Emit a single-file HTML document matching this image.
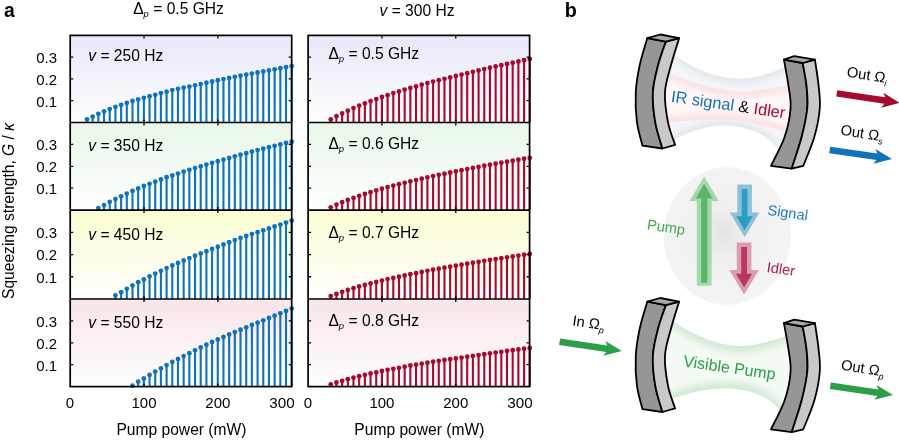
<!DOCTYPE html>
<html><head><meta charset="utf-8"><title>figure</title>
<style>html,body{margin:0;padding:0;background:#fff;}body{width:899px;height:440px;overflow:hidden;font-family:"Liberation Sans",sans-serif;}svg{display:block;opacity:0.999;}</style>
</head><body>
<svg width="899" height="440" viewBox="0 0 899 440" font-family="Liberation Sans, sans-serif" font-size="15.6" fill="#000">
<defs>
<linearGradient id="g0" x1="0" y1="0" x2="0" y2="1"><stop offset="0" stop-color="#e9e9f9"/><stop offset="0.08" stop-color="#e9e9f9"/><stop offset="1" stop-color="#ffffff"/></linearGradient>
<linearGradient id="g1" x1="0" y1="0" x2="0" y2="1"><stop offset="0" stop-color="#eaf8eb"/><stop offset="0.08" stop-color="#eaf8eb"/><stop offset="1" stop-color="#ffffff"/></linearGradient>
<linearGradient id="g2" x1="0" y1="0" x2="0" y2="1"><stop offset="0" stop-color="#fcfdd6"/><stop offset="0.08" stop-color="#fcfdd6"/><stop offset="1" stop-color="#ffffff"/></linearGradient>
<linearGradient id="g3" x1="0" y1="0" x2="0" y2="1"><stop offset="0" stop-color="#f9e7ea"/><stop offset="0.08" stop-color="#f9e7ea"/><stop offset="1" stop-color="#ffffff"/></linearGradient>
<radialGradient id="ell" cx="0.47" cy="0.48" r="0.52"><stop offset="0" stop-color="#e3e3e3"/><stop offset="0.15" stop-color="#e9e9e9"/><stop offset="0.35" stop-color="#efefef"/><stop offset="0.7" stop-color="#f2f2f2"/><stop offset="1" stop-color="#f4f4f4"/></radialGradient>
<filter id="b0" x="-10%" y="-10%" width="120%" height="120%"><feGaussianBlur stdDeviation="0.6"/></filter>
<filter id="b1" x="-20%" y="-20%" width="140%" height="140%"><feGaussianBlur stdDeviation="1.2"/></filter>
<filter id="b3" x="-20%" y="-30%" width="140%" height="160%"><feGaussianBlur stdDeviation="3"/></filter>
<filter id="b2" x="-20%" y="-20%" width="140%" height="140%"><feGaussianBlur stdDeviation="2.2"/></filter>
<linearGradient id="gb" x1="0" y1="0" x2="0" y2="1"><stop offset="0" stop-color="#cfe9cf"/><stop offset="0.5" stop-color="#f6fbf6"/><stop offset="1" stop-color="#d6edd6"/></linearGradient>
</defs>
<rect x="70.2" y="35.4" width="221.50" height="87.10" fill="url(#g0)"/>
<path d="M87.00 122.50V119.50M92.68 122.50V116.65M98.37 122.50V113.80M104.06 122.50V111.30M109.74 122.50V109.10M115.43 122.50V106.80M121.11 122.50V104.80M126.80 122.50V102.90M132.49 122.50V100.90M138.17 122.50V99.50M143.86 122.50V97.80M149.54 122.50V96.20M155.23 122.50V94.80M160.92 122.50V93.10M166.60 122.50V91.70M172.29 122.50V90.10M177.97 122.50V88.80M183.66 122.50V87.70M189.35 122.50V86.55M195.03 122.50V85.32M200.72 122.50V84.05M206.40 122.50V82.77M212.09 122.50V81.50M217.78 122.50V80.27M223.46 122.50V79.08M229.15 122.50V77.92M234.83 122.50V76.80M240.52 122.50V75.70M246.21 122.50V74.62M251.89 122.50V73.56M257.58 122.50V72.51M263.26 122.50V71.46M268.95 122.50V70.40M274.64 122.50V69.33M280.32 122.50V68.26M286.01 122.50V67.18M291.69 122.50V66.10" stroke="#0f73ba" stroke-width="2.1" fill="none"/>
<g fill="#0f73ba"><circle cx="87.00" cy="119.50" r="2.4"/><circle cx="92.68" cy="116.65" r="2.4"/><circle cx="98.37" cy="113.80" r="2.4"/><circle cx="104.06" cy="111.30" r="2.4"/><circle cx="109.74" cy="109.10" r="2.4"/><circle cx="115.43" cy="106.80" r="2.4"/><circle cx="121.11" cy="104.80" r="2.4"/><circle cx="126.80" cy="102.90" r="2.4"/><circle cx="132.49" cy="100.90" r="2.4"/><circle cx="138.17" cy="99.50" r="2.4"/><circle cx="143.86" cy="97.80" r="2.4"/><circle cx="149.54" cy="96.20" r="2.4"/><circle cx="155.23" cy="94.80" r="2.4"/><circle cx="160.92" cy="93.10" r="2.4"/><circle cx="166.60" cy="91.70" r="2.4"/><circle cx="172.29" cy="90.10" r="2.4"/><circle cx="177.97" cy="88.80" r="2.4"/><circle cx="183.66" cy="87.70" r="2.4"/><circle cx="189.35" cy="86.55" r="2.4"/><circle cx="195.03" cy="85.32" r="2.4"/><circle cx="200.72" cy="84.05" r="2.4"/><circle cx="206.40" cy="82.77" r="2.4"/><circle cx="212.09" cy="81.50" r="2.4"/><circle cx="217.78" cy="80.27" r="2.4"/><circle cx="223.46" cy="79.08" r="2.4"/><circle cx="229.15" cy="77.92" r="2.4"/><circle cx="234.83" cy="76.80" r="2.4"/><circle cx="240.52" cy="75.70" r="2.4"/><circle cx="246.21" cy="74.62" r="2.4"/><circle cx="251.89" cy="73.56" r="2.4"/><circle cx="257.58" cy="72.51" r="2.4"/><circle cx="263.26" cy="71.46" r="2.4"/><circle cx="268.95" cy="70.40" r="2.4"/><circle cx="274.64" cy="69.33" r="2.4"/><circle cx="280.32" cy="68.26" r="2.4"/><circle cx="286.01" cy="67.18" r="2.4"/><circle cx="291.69" cy="66.10" r="2.4"/></g>
<rect x="70.2" y="122.5" width="221.50" height="87.60" fill="url(#g1)"/>
<path d="M98.37 210.10V208.10M104.06 210.10V205.10M109.74 210.10V201.80M115.43 210.10V199.10M121.11 210.10V196.30M126.80 210.10V193.60M132.49 210.10V190.90M138.17 210.10V188.50M143.86 210.10V186.00M149.54 210.10V183.80M155.23 210.10V181.70M160.92 210.10V179.50M166.60 210.10V177.20M172.29 210.10V175.40M177.97 210.10V173.60M183.66 210.10V171.70M189.35 210.10V169.84M195.03 210.10V168.05M200.72 210.10V166.30M206.40 210.10V164.59M212.09 210.10V162.90M217.78 210.10V161.22M223.46 210.10V159.56M229.15 210.10V157.91M234.83 210.10V156.29M240.52 210.10V154.70M246.21 210.10V153.14M251.89 210.10V151.61M257.58 210.10V150.11M263.26 210.10V148.64M268.95 210.10V147.20M274.64 210.10V145.78M280.32 210.10V144.38M286.01 210.10V142.99M291.69 210.10V141.60" stroke="#0f73ba" stroke-width="2.1" fill="none"/>
<g fill="#0f73ba"><circle cx="98.37" cy="208.10" r="2.4"/><circle cx="104.06" cy="205.10" r="2.4"/><circle cx="109.74" cy="201.80" r="2.4"/><circle cx="115.43" cy="199.10" r="2.4"/><circle cx="121.11" cy="196.30" r="2.4"/><circle cx="126.80" cy="193.60" r="2.4"/><circle cx="132.49" cy="190.90" r="2.4"/><circle cx="138.17" cy="188.50" r="2.4"/><circle cx="143.86" cy="186.00" r="2.4"/><circle cx="149.54" cy="183.80" r="2.4"/><circle cx="155.23" cy="181.70" r="2.4"/><circle cx="160.92" cy="179.50" r="2.4"/><circle cx="166.60" cy="177.20" r="2.4"/><circle cx="172.29" cy="175.40" r="2.4"/><circle cx="177.97" cy="173.60" r="2.4"/><circle cx="183.66" cy="171.70" r="2.4"/><circle cx="189.35" cy="169.84" r="2.4"/><circle cx="195.03" cy="168.05" r="2.4"/><circle cx="200.72" cy="166.30" r="2.4"/><circle cx="206.40" cy="164.59" r="2.4"/><circle cx="212.09" cy="162.90" r="2.4"/><circle cx="217.78" cy="161.22" r="2.4"/><circle cx="223.46" cy="159.56" r="2.4"/><circle cx="229.15" cy="157.91" r="2.4"/><circle cx="234.83" cy="156.29" r="2.4"/><circle cx="240.52" cy="154.70" r="2.4"/><circle cx="246.21" cy="153.14" r="2.4"/><circle cx="251.89" cy="151.61" r="2.4"/><circle cx="257.58" cy="150.11" r="2.4"/><circle cx="263.26" cy="148.64" r="2.4"/><circle cx="268.95" cy="147.20" r="2.4"/><circle cx="274.64" cy="145.78" r="2.4"/><circle cx="280.32" cy="144.38" r="2.4"/><circle cx="286.01" cy="142.99" r="2.4"/><circle cx="291.69" cy="141.60" r="2.4"/></g>
<rect x="70.2" y="210.1" width="221.50" height="88.90" fill="url(#g2)"/>
<path d="M115.43 299.00V295.50M121.11 299.00V292.20M126.80 299.00V288.80M132.49 299.00V285.50M138.17 299.00V282.20M143.86 299.00V279.40M149.54 299.00V276.30M155.23 299.00V273.60M160.92 299.00V270.80M166.60 299.00V268.10M172.29 299.00V265.40M177.97 299.00V263.00M183.66 299.00V260.50M189.35 299.00V258.04M195.03 299.00V255.68M200.72 299.00V253.39M206.40 299.00V251.14M212.09 299.00V248.90M217.78 299.00V246.66M223.46 299.00V244.43M229.15 299.00V242.23M234.83 299.00V240.08M240.52 299.00V238.00M246.21 299.00V236.00M251.89 299.00V234.07M257.58 299.00V232.17M263.26 299.00V230.29M268.95 299.00V228.40M274.64 299.00V226.48M280.32 299.00V224.53M286.01 299.00V222.57M291.69 299.00V220.60" stroke="#0f73ba" stroke-width="2.1" fill="none"/>
<g fill="#0f73ba"><circle cx="115.43" cy="295.50" r="2.4"/><circle cx="121.11" cy="292.20" r="2.4"/><circle cx="126.80" cy="288.80" r="2.4"/><circle cx="132.49" cy="285.50" r="2.4"/><circle cx="138.17" cy="282.20" r="2.4"/><circle cx="143.86" cy="279.40" r="2.4"/><circle cx="149.54" cy="276.30" r="2.4"/><circle cx="155.23" cy="273.60" r="2.4"/><circle cx="160.92" cy="270.80" r="2.4"/><circle cx="166.60" cy="268.10" r="2.4"/><circle cx="172.29" cy="265.40" r="2.4"/><circle cx="177.97" cy="263.00" r="2.4"/><circle cx="183.66" cy="260.50" r="2.4"/><circle cx="189.35" cy="258.04" r="2.4"/><circle cx="195.03" cy="255.68" r="2.4"/><circle cx="200.72" cy="253.39" r="2.4"/><circle cx="206.40" cy="251.14" r="2.4"/><circle cx="212.09" cy="248.90" r="2.4"/><circle cx="217.78" cy="246.66" r="2.4"/><circle cx="223.46" cy="244.43" r="2.4"/><circle cx="229.15" cy="242.23" r="2.4"/><circle cx="234.83" cy="240.08" r="2.4"/><circle cx="240.52" cy="238.00" r="2.4"/><circle cx="246.21" cy="236.00" r="2.4"/><circle cx="251.89" cy="234.07" r="2.4"/><circle cx="257.58" cy="232.17" r="2.4"/><circle cx="263.26" cy="230.29" r="2.4"/><circle cx="268.95" cy="228.40" r="2.4"/><circle cx="274.64" cy="226.48" r="2.4"/><circle cx="280.32" cy="224.53" r="2.4"/><circle cx="286.01" cy="222.57" r="2.4"/><circle cx="291.69" cy="220.60" r="2.4"/></g>
<rect x="70.2" y="299.0" width="221.50" height="87.60" fill="url(#g3)"/>
<path d="M132.49 386.60V385.60M138.17 386.60V381.70M143.86 386.60V378.40M149.54 386.60V374.90M155.23 386.60V371.60M160.92 386.60V368.40M166.60 386.60V365.10M172.29 386.60V362.00M177.97 386.60V359.00M183.66 386.60V356.10M189.35 386.60V353.21M195.03 386.60V350.34M200.72 386.60V347.49M206.40 386.60V344.70M212.09 386.60V342.00M217.78 386.60V339.40M223.46 386.60V336.89M229.15 386.60V334.45M234.83 386.60V332.06M240.52 386.60V329.70M246.21 386.60V327.35M251.89 386.60V325.01M257.58 386.60V322.68M263.26 386.60V320.34M268.95 386.60V318.00M274.64 386.60V315.66M280.32 386.60V313.31M286.01 386.60V310.95M291.69 386.60V308.60" stroke="#0f73ba" stroke-width="2.1" fill="none"/>
<g fill="#0f73ba"><circle cx="132.49" cy="385.60" r="2.4"/><circle cx="138.17" cy="381.70" r="2.4"/><circle cx="143.86" cy="378.40" r="2.4"/><circle cx="149.54" cy="374.90" r="2.4"/><circle cx="155.23" cy="371.60" r="2.4"/><circle cx="160.92" cy="368.40" r="2.4"/><circle cx="166.60" cy="365.10" r="2.4"/><circle cx="172.29" cy="362.00" r="2.4"/><circle cx="177.97" cy="359.00" r="2.4"/><circle cx="183.66" cy="356.10" r="2.4"/><circle cx="189.35" cy="353.21" r="2.4"/><circle cx="195.03" cy="350.34" r="2.4"/><circle cx="200.72" cy="347.49" r="2.4"/><circle cx="206.40" cy="344.70" r="2.4"/><circle cx="212.09" cy="342.00" r="2.4"/><circle cx="217.78" cy="339.40" r="2.4"/><circle cx="223.46" cy="336.89" r="2.4"/><circle cx="229.15" cy="334.45" r="2.4"/><circle cx="234.83" cy="332.06" r="2.4"/><circle cx="240.52" cy="329.70" r="2.4"/><circle cx="246.21" cy="327.35" r="2.4"/><circle cx="251.89" cy="325.01" r="2.4"/><circle cx="257.58" cy="322.68" r="2.4"/><circle cx="263.26" cy="320.34" r="2.4"/><circle cx="268.95" cy="318.00" r="2.4"/><circle cx="274.64" cy="315.66" r="2.4"/><circle cx="280.32" cy="313.31" r="2.4"/><circle cx="286.01" cy="310.95" r="2.4"/><circle cx="291.69" cy="308.60" r="2.4"/></g>
<path d="M70.2 100.72h3M291.7 100.72h-3M70.2 78.95h3M291.7 78.95h-3M70.2 57.18h3M291.7 57.18h-3M144.03 35.4v3M144.03 122.5v-3M217.87 35.4v3M217.87 122.5v-3M70.2 188.20h3M291.7 188.20h-3M70.2 166.30h3M291.7 166.30h-3M70.2 144.40h3M291.7 144.40h-3M144.03 122.5v3M144.03 210.1v-3M217.87 122.5v3M217.87 210.1v-3M70.2 276.77h3M291.7 276.77h-3M70.2 254.55h3M291.7 254.55h-3M70.2 232.32h3M291.7 232.32h-3M144.03 210.1v3M144.03 299.0v-3M217.87 210.1v3M217.87 299.0v-3M70.2 364.70h3M291.7 364.70h-3M70.2 342.80h3M291.7 342.80h-3M70.2 320.90h3M291.7 320.90h-3M144.03 299.0v3M144.03 386.6v-3M217.87 299.0v3M217.87 386.6v-3" stroke="#000" stroke-width="1.3" fill="none"/>
<rect x="70.2" y="35.4" width="221.50" height="351.20" fill="none" stroke="#000" stroke-width="1.7"/>
<path d="M70.2 122.5H291.7" stroke="#000" stroke-width="1.7"/>
<path d="M70.2 210.1H291.7" stroke="#000" stroke-width="1.7"/>
<path d="M70.2 299.0H291.7" stroke="#000" stroke-width="1.7"/>
<text x="70.00" y="407.6" text-anchor="middle" font-size="15">0</text>
<text x="144.03" y="407.6" text-anchor="middle" font-size="15">100</text>
<text x="217.87" y="407.6" text-anchor="middle" font-size="15">200</text>
<text x="294.70" y="407.6" text-anchor="end" font-size="15.2">300</text>
<text x="181.45" y="434.6" text-anchor="middle">Pump power (mW)</text>
<rect x="308.1" y="35.4" width="221.50" height="87.10" fill="url(#g0)"/>
<path d="M330.74 122.50V119.50M336.43 122.50V116.20M342.12 122.50V113.40M347.80 122.50V110.70M353.49 122.50V108.10M359.17 122.50V105.60M364.86 122.50V103.40M370.55 122.50V101.10M376.23 122.50V99.10M381.92 122.50V97.00M387.60 122.50V95.20M393.29 122.50V93.10M398.98 122.50V91.50M404.66 122.50V89.60M410.35 122.50V88.00M416.03 122.50V86.40M421.72 122.50V84.70M427.41 122.50V83.09M433.09 122.50V81.59M438.78 122.50V80.16M444.46 122.50V78.78M450.15 122.50V77.40M455.84 122.50V76.01M461.52 122.50V74.60M467.21 122.50V73.18M472.89 122.50V71.78M478.58 122.50V70.40M484.27 122.50V69.05M489.95 122.50V67.73M495.64 122.50V66.43M501.32 122.50V65.15M507.01 122.50V63.90M512.70 122.50V62.66M518.38 122.50V61.43M524.07 122.50V60.22M529.75 122.50V59.00" stroke="#a60a2e" stroke-width="2.1" fill="none"/>
<g fill="#a60a2e"><circle cx="330.74" cy="119.50" r="2.4"/><circle cx="336.43" cy="116.20" r="2.4"/><circle cx="342.12" cy="113.40" r="2.4"/><circle cx="347.80" cy="110.70" r="2.4"/><circle cx="353.49" cy="108.10" r="2.4"/><circle cx="359.17" cy="105.60" r="2.4"/><circle cx="364.86" cy="103.40" r="2.4"/><circle cx="370.55" cy="101.10" r="2.4"/><circle cx="376.23" cy="99.10" r="2.4"/><circle cx="381.92" cy="97.00" r="2.4"/><circle cx="387.60" cy="95.20" r="2.4"/><circle cx="393.29" cy="93.10" r="2.4"/><circle cx="398.98" cy="91.50" r="2.4"/><circle cx="404.66" cy="89.60" r="2.4"/><circle cx="410.35" cy="88.00" r="2.4"/><circle cx="416.03" cy="86.40" r="2.4"/><circle cx="421.72" cy="84.70" r="2.4"/><circle cx="427.41" cy="83.09" r="2.4"/><circle cx="433.09" cy="81.59" r="2.4"/><circle cx="438.78" cy="80.16" r="2.4"/><circle cx="444.46" cy="78.78" r="2.4"/><circle cx="450.15" cy="77.40" r="2.4"/><circle cx="455.84" cy="76.01" r="2.4"/><circle cx="461.52" cy="74.60" r="2.4"/><circle cx="467.21" cy="73.18" r="2.4"/><circle cx="472.89" cy="71.78" r="2.4"/><circle cx="478.58" cy="70.40" r="2.4"/><circle cx="484.27" cy="69.05" r="2.4"/><circle cx="489.95" cy="67.73" r="2.4"/><circle cx="495.64" cy="66.43" r="2.4"/><circle cx="501.32" cy="65.15" r="2.4"/><circle cx="507.01" cy="63.90" r="2.4"/><circle cx="512.70" cy="62.66" r="2.4"/><circle cx="518.38" cy="61.43" r="2.4"/><circle cx="524.07" cy="60.22" r="2.4"/><circle cx="529.75" cy="59.00" r="2.4"/></g>
<rect x="308.1" y="122.5" width="221.50" height="87.60" fill="url(#g1)"/>
<path d="M330.74 210.10V207.30M336.43 210.10V204.60M342.12 210.10V202.20M347.80 210.10V199.90M353.49 210.10V197.90M359.17 210.10V195.90M364.86 210.10V194.00M370.55 210.10V192.20M376.23 210.10V190.50M381.92 210.10V188.70M387.60 210.10V187.10M393.29 210.10V185.60M398.98 210.10V184.20M404.66 210.10V182.80M410.35 210.10V181.30M416.03 210.10V180.10M421.72 210.10V178.70M427.41 210.10V177.32M433.09 210.10V176.03M438.78 210.10V174.82M444.46 210.10V173.65M450.15 210.10V172.50M455.84 210.10V171.34M461.52 210.10V170.18M467.21 210.10V169.04M472.89 210.10V167.90M478.58 210.10V166.80M484.27 210.10V165.73M489.95 210.10V164.69M495.64 210.10V163.68M501.32 210.10V162.68M507.01 210.10V161.70M512.70 210.10V160.72M518.38 210.10V159.75M524.07 210.10V158.77M529.75 210.10V157.80" stroke="#a60a2e" stroke-width="2.1" fill="none"/>
<g fill="#a60a2e"><circle cx="330.74" cy="207.30" r="2.4"/><circle cx="336.43" cy="204.60" r="2.4"/><circle cx="342.12" cy="202.20" r="2.4"/><circle cx="347.80" cy="199.90" r="2.4"/><circle cx="353.49" cy="197.90" r="2.4"/><circle cx="359.17" cy="195.90" r="2.4"/><circle cx="364.86" cy="194.00" r="2.4"/><circle cx="370.55" cy="192.20" r="2.4"/><circle cx="376.23" cy="190.50" r="2.4"/><circle cx="381.92" cy="188.70" r="2.4"/><circle cx="387.60" cy="187.10" r="2.4"/><circle cx="393.29" cy="185.60" r="2.4"/><circle cx="398.98" cy="184.20" r="2.4"/><circle cx="404.66" cy="182.80" r="2.4"/><circle cx="410.35" cy="181.30" r="2.4"/><circle cx="416.03" cy="180.10" r="2.4"/><circle cx="421.72" cy="178.70" r="2.4"/><circle cx="427.41" cy="177.32" r="2.4"/><circle cx="433.09" cy="176.03" r="2.4"/><circle cx="438.78" cy="174.82" r="2.4"/><circle cx="444.46" cy="173.65" r="2.4"/><circle cx="450.15" cy="172.50" r="2.4"/><circle cx="455.84" cy="171.34" r="2.4"/><circle cx="461.52" cy="170.18" r="2.4"/><circle cx="467.21" cy="169.04" r="2.4"/><circle cx="472.89" cy="167.90" r="2.4"/><circle cx="478.58" cy="166.80" r="2.4"/><circle cx="484.27" cy="165.73" r="2.4"/><circle cx="489.95" cy="164.69" r="2.4"/><circle cx="495.64" cy="163.68" r="2.4"/><circle cx="501.32" cy="162.68" r="2.4"/><circle cx="507.01" cy="161.70" r="2.4"/><circle cx="512.70" cy="160.72" r="2.4"/><circle cx="518.38" cy="159.75" r="2.4"/><circle cx="524.07" cy="158.77" r="2.4"/><circle cx="529.75" cy="157.80" r="2.4"/></g>
<rect x="308.1" y="210.1" width="221.50" height="88.90" fill="url(#g2)"/>
<path d="M330.74 299.00V296.10M336.43 299.00V293.90M342.12 299.00V291.80M347.80 299.00V290.00M353.49 299.00V288.20M359.17 299.00V286.50M364.86 299.00V284.90M370.55 299.00V283.40M376.23 299.00V282.00M381.92 299.00V280.60M387.60 299.00V279.10M393.29 299.00V277.90M398.98 299.00V276.70M404.66 299.00V275.50M410.35 299.00V274.20M416.03 299.00V273.20M421.72 299.00V272.00M427.41 299.00V270.81M433.09 299.00V269.71M438.78 299.00V268.68M444.46 299.00V267.68M450.15 299.00V266.70M455.84 299.00V265.71M461.52 299.00V264.72M467.21 299.00V263.73M472.89 299.00V262.76M478.58 299.00V261.80M484.27 299.00V260.87M489.95 299.00V259.96M495.64 299.00V259.06M501.32 299.00V258.18M507.01 299.00V257.30M512.70 299.00V256.42M518.38 299.00V255.55M524.07 299.00V254.67M529.75 299.00V253.80" stroke="#a60a2e" stroke-width="2.1" fill="none"/>
<g fill="#a60a2e"><circle cx="330.74" cy="296.10" r="2.4"/><circle cx="336.43" cy="293.90" r="2.4"/><circle cx="342.12" cy="291.80" r="2.4"/><circle cx="347.80" cy="290.00" r="2.4"/><circle cx="353.49" cy="288.20" r="2.4"/><circle cx="359.17" cy="286.50" r="2.4"/><circle cx="364.86" cy="284.90" r="2.4"/><circle cx="370.55" cy="283.40" r="2.4"/><circle cx="376.23" cy="282.00" r="2.4"/><circle cx="381.92" cy="280.60" r="2.4"/><circle cx="387.60" cy="279.10" r="2.4"/><circle cx="393.29" cy="277.90" r="2.4"/><circle cx="398.98" cy="276.70" r="2.4"/><circle cx="404.66" cy="275.50" r="2.4"/><circle cx="410.35" cy="274.20" r="2.4"/><circle cx="416.03" cy="273.20" r="2.4"/><circle cx="421.72" cy="272.00" r="2.4"/><circle cx="427.41" cy="270.81" r="2.4"/><circle cx="433.09" cy="269.71" r="2.4"/><circle cx="438.78" cy="268.68" r="2.4"/><circle cx="444.46" cy="267.68" r="2.4"/><circle cx="450.15" cy="266.70" r="2.4"/><circle cx="455.84" cy="265.71" r="2.4"/><circle cx="461.52" cy="264.72" r="2.4"/><circle cx="467.21" cy="263.73" r="2.4"/><circle cx="472.89" cy="262.76" r="2.4"/><circle cx="478.58" cy="261.80" r="2.4"/><circle cx="484.27" cy="260.87" r="2.4"/><circle cx="489.95" cy="259.96" r="2.4"/><circle cx="495.64" cy="259.06" r="2.4"/><circle cx="501.32" cy="258.18" r="2.4"/><circle cx="507.01" cy="257.30" r="2.4"/><circle cx="512.70" cy="256.42" r="2.4"/><circle cx="518.38" cy="255.55" r="2.4"/><circle cx="524.07" cy="254.67" r="2.4"/><circle cx="529.75" cy="253.80" r="2.4"/></g>
<rect x="308.1" y="299.0" width="221.50" height="87.60" fill="url(#g3)"/>
<path d="M330.74 386.60V384.30M336.43 386.60V382.50M342.12 386.60V380.90M347.80 386.60V379.20M353.49 386.60V377.60M359.17 386.60V376.20M364.86 386.60V374.90M370.55 386.60V373.50M376.23 386.60V372.30M381.92 386.60V371.00M387.60 386.60V369.80M393.29 386.60V368.80M398.98 386.60V367.80M404.66 386.60V366.70M410.35 386.60V365.50M416.03 386.60V364.70M421.72 386.60V363.70M427.41 386.60V362.69M433.09 386.60V361.75M438.78 386.60V360.87M444.46 386.60V360.02M450.15 386.60V359.20M455.84 386.60V358.38M461.52 386.60V357.56M467.21 386.60V356.74M472.89 386.60V355.92M478.58 386.60V355.10M484.27 386.60V354.27M489.95 386.60V353.44M495.64 386.60V352.62M501.32 386.60V351.80M507.01 386.60V351.00M512.70 386.60V350.21M518.38 386.60V349.43M524.07 386.60V348.66M529.75 386.60V347.90" stroke="#a60a2e" stroke-width="2.1" fill="none"/>
<g fill="#a60a2e"><circle cx="330.74" cy="384.30" r="2.4"/><circle cx="336.43" cy="382.50" r="2.4"/><circle cx="342.12" cy="380.90" r="2.4"/><circle cx="347.80" cy="379.20" r="2.4"/><circle cx="353.49" cy="377.60" r="2.4"/><circle cx="359.17" cy="376.20" r="2.4"/><circle cx="364.86" cy="374.90" r="2.4"/><circle cx="370.55" cy="373.50" r="2.4"/><circle cx="376.23" cy="372.30" r="2.4"/><circle cx="381.92" cy="371.00" r="2.4"/><circle cx="387.60" cy="369.80" r="2.4"/><circle cx="393.29" cy="368.80" r="2.4"/><circle cx="398.98" cy="367.80" r="2.4"/><circle cx="404.66" cy="366.70" r="2.4"/><circle cx="410.35" cy="365.50" r="2.4"/><circle cx="416.03" cy="364.70" r="2.4"/><circle cx="421.72" cy="363.70" r="2.4"/><circle cx="427.41" cy="362.69" r="2.4"/><circle cx="433.09" cy="361.75" r="2.4"/><circle cx="438.78" cy="360.87" r="2.4"/><circle cx="444.46" cy="360.02" r="2.4"/><circle cx="450.15" cy="359.20" r="2.4"/><circle cx="455.84" cy="358.38" r="2.4"/><circle cx="461.52" cy="357.56" r="2.4"/><circle cx="467.21" cy="356.74" r="2.4"/><circle cx="472.89" cy="355.92" r="2.4"/><circle cx="478.58" cy="355.10" r="2.4"/><circle cx="484.27" cy="354.27" r="2.4"/><circle cx="489.95" cy="353.44" r="2.4"/><circle cx="495.64" cy="352.62" r="2.4"/><circle cx="501.32" cy="351.80" r="2.4"/><circle cx="507.01" cy="351.00" r="2.4"/><circle cx="512.70" cy="350.21" r="2.4"/><circle cx="518.38" cy="349.43" r="2.4"/><circle cx="524.07" cy="348.66" r="2.4"/><circle cx="529.75" cy="347.90" r="2.4"/></g>
<path d="M308.1 100.72h3M529.6 100.72h-3M308.1 78.95h3M529.6 78.95h-3M308.1 57.18h3M529.6 57.18h-3M381.93 35.4v3M381.93 122.5v-3M455.77 35.4v3M455.77 122.5v-3M308.1 188.20h3M529.6 188.20h-3M308.1 166.30h3M529.6 166.30h-3M308.1 144.40h3M529.6 144.40h-3M381.93 122.5v3M381.93 210.1v-3M455.77 122.5v3M455.77 210.1v-3M308.1 276.77h3M529.6 276.77h-3M308.1 254.55h3M529.6 254.55h-3M308.1 232.32h3M529.6 232.32h-3M381.93 210.1v3M381.93 299.0v-3M455.77 210.1v3M455.77 299.0v-3M308.1 364.70h3M529.6 364.70h-3M308.1 342.80h3M529.6 342.80h-3M308.1 320.90h3M529.6 320.90h-3M381.93 299.0v3M381.93 386.6v-3M455.77 299.0v3M455.77 386.6v-3" stroke="#000" stroke-width="1.3" fill="none"/>
<rect x="308.1" y="35.4" width="221.50" height="351.20" fill="none" stroke="#000" stroke-width="1.7"/>
<path d="M308.1 122.5H529.6" stroke="#000" stroke-width="1.7"/>
<path d="M308.1 210.1H529.6" stroke="#000" stroke-width="1.7"/>
<path d="M308.1 299.0H529.6" stroke="#000" stroke-width="1.7"/>
<text x="307.90" y="407.6" text-anchor="middle" font-size="15">0</text>
<text x="381.93" y="407.6" text-anchor="middle" font-size="15">100</text>
<text x="455.77" y="407.6" text-anchor="middle" font-size="15">200</text>
<text x="532.60" y="407.6" text-anchor="end" font-size="15.2">300</text>
<text x="419.35" y="434.6" text-anchor="middle">Pump power (mW)</text>
<text x="57.0" y="106.52" text-anchor="end" font-size="15">0.1</text>
<text x="57.0" y="84.75" text-anchor="end" font-size="15">0.2</text>
<text x="57.0" y="62.98" text-anchor="end" font-size="15">0.3</text>
<text x="57.0" y="194.00" text-anchor="end" font-size="15">0.1</text>
<text x="57.0" y="172.10" text-anchor="end" font-size="15">0.2</text>
<text x="57.0" y="150.20" text-anchor="end" font-size="15">0.3</text>
<text x="57.0" y="282.57" text-anchor="end" font-size="15">0.1</text>
<text x="57.0" y="260.35" text-anchor="end" font-size="15">0.2</text>
<text x="57.0" y="238.12" text-anchor="end" font-size="15">0.3</text>
<text x="57.0" y="370.50" text-anchor="end" font-size="15">0.1</text>
<text x="57.0" y="348.60" text-anchor="end" font-size="15">0.2</text>
<text x="57.0" y="326.70" text-anchor="end" font-size="15">0.3</text>
<text transform="translate(13.5,211) rotate(-90)" text-anchor="middle">Squeezing strength, <tspan font-style="italic">G</tspan> / <tspan font-style="italic">κ</tspan></text>
<text x="88.3" y="60.80"><tspan font-style="italic">v</tspan> = 250 Hz</text>
<text x="328.4" y="58.90">Δ<tspan font-style="italic" font-size="9.5" dy="3.2">p</tspan><tspan dy="-3.2"> = 0.5 GHz</tspan></text>
<text x="88.3" y="151.00"><tspan font-style="italic">v</tspan> = 350 Hz</text>
<text x="328.4" y="149.10">Δ<tspan font-style="italic" font-size="9.5" dy="3.2">p</tspan><tspan dy="-3.2"> = 0.6 GHz</tspan></text>
<text x="88.3" y="240.30"><tspan font-style="italic">v</tspan> = 450 Hz</text>
<text x="328.4" y="237.90">Δ<tspan font-style="italic" font-size="9.5" dy="3.2">p</tspan><tspan dy="-3.2"> = 0.7 GHz</tspan></text>
<text x="88.3" y="328.40"><tspan font-style="italic">v</tspan> = 550 Hz</text>
<text x="328.4" y="325.90">Δ<tspan font-style="italic" font-size="9.5" dy="3.2">p</tspan><tspan dy="-3.2"> = 0.8 GHz</tspan></text>
<text x="133.2" y="13.8">Δ<tspan font-style="italic" font-size="9.5" dy="3.2">p</tspan><tspan dy="-3.2"> = 0.5 GHz</tspan></text>
<text x="379.5" y="15.9"><tspan font-style="italic">v</tspan> = 300 Hz</text>
<text x="4.0" y="16.5" font-weight="bold" font-size="19.3">a</text>
<text x="564.7" y="16.5" font-weight="bold" font-size="19.8">b</text>
<ellipse cx="727.2" cy="236" rx="63.6" ry="68.8" fill="url(#ell)" filter="url(#b0)"/>
<path d="M656.00 43.50C658.00 44.67 664.97 48.62 668.00 50.50C671.03 52.38 670.47 52.37 674.20 54.80C677.93 57.23 684.73 62.05 690.40 65.10C696.07 68.15 702.28 71.03 708.20 73.10C714.12 75.17 720.00 76.58 725.90 77.50C731.80 78.42 737.68 78.93 743.60 78.60C749.52 78.27 755.48 77.02 761.40 75.50C767.32 73.98 774.00 71.42 779.10 69.50C784.20 67.58 788.52 65.58 792.00 64.00C795.48 62.42 798.67 60.67 800.00 60.00L793.00 166.00C791.83 164.50 788.32 159.58 786.00 157.00C783.68 154.42 781.73 153.27 779.10 150.50C776.47 147.73 774.15 143.55 770.20 140.40C766.25 137.25 760.82 133.87 755.40 131.60C749.98 129.33 743.60 127.78 737.70 126.80C731.80 125.82 725.90 125.40 720.00 125.70C714.10 126.00 708.22 127.13 702.30 128.60C696.38 130.07 689.68 132.28 684.50 134.50C679.32 136.72 674.28 140.15 671.20 141.90C668.12 143.65 668.53 143.48 666.00 145.00C663.47 146.52 657.67 150.00 656.00 151.00Z" fill="#e5e9ee" filter="url(#b0)"/>
<path d="M656.00 49.00C658.00 50.17 664.97 54.12 668.00 56.00C671.03 57.88 670.47 57.87 674.20 60.30C677.93 62.73 684.73 67.55 690.40 70.60C696.07 73.65 702.28 76.53 708.20 78.60C714.12 80.67 720.00 82.08 725.90 83.00C731.80 83.92 737.68 84.43 743.60 84.10C749.52 83.77 755.48 82.52 761.40 81.00C767.32 79.48 774.00 76.92 779.10 75.00C784.20 73.08 788.52 71.08 792.00 69.50C795.48 67.92 798.67 66.17 800.00 65.50L793.00 160.50C791.83 159.00 788.32 154.08 786.00 151.50C783.68 148.92 781.73 147.77 779.10 145.00C776.47 142.23 774.15 138.05 770.20 134.90C766.25 131.75 760.82 128.37 755.40 126.10C749.98 123.83 743.60 122.28 737.70 121.30C731.80 120.32 725.90 119.90 720.00 120.20C714.10 120.50 708.22 121.63 702.30 123.10C696.38 124.57 689.68 126.78 684.50 129.00C679.32 131.22 674.28 134.65 671.20 136.40C668.12 138.15 668.53 137.98 666.00 139.50C663.47 141.02 657.67 144.50 656.00 145.50Z" fill="#f3f5f8" filter="url(#b2)"/>
<path d="M660.00 71.50C661.13 71.83 661.73 71.83 666.80 73.50C671.87 75.17 682.52 79.12 690.40 81.50C698.28 83.88 706.22 86.13 714.10 87.80C721.98 89.47 729.82 91.13 737.70 91.50C745.58 91.87 751.85 91.17 761.40 90.00C770.95 88.83 789.40 85.42 795.00 84.50L795.00 134.50C789.33 132.92 770.55 127.33 761.00 125.00C751.45 122.67 745.53 121.42 737.70 120.50C729.87 119.58 721.95 119.50 714.00 119.50C706.05 119.50 697.87 120.00 690.00 120.50C682.13 121.00 671.80 122.08 666.80 122.50C661.80 122.92 661.13 122.92 660.00 123.00Z" fill="#fbe4e8" filter="url(#b0)"/>
<path d="M660.00 77.50C661.13 77.83 661.73 77.83 666.80 79.50C671.87 81.17 682.52 85.12 690.40 87.50C698.28 89.88 706.22 92.13 714.10 93.80C721.98 95.47 729.82 97.13 737.70 97.50C745.58 97.87 751.85 97.17 761.40 96.00C770.95 94.83 789.40 91.42 795.00 90.50L795.00 128.50C789.33 126.92 770.55 121.33 761.00 119.00C751.45 116.67 745.53 115.42 737.70 114.50C729.87 113.58 721.95 113.50 714.00 113.50C706.05 113.50 697.87 114.00 690.00 114.50C682.13 115.00 671.80 116.08 666.80 116.50C661.80 116.92 661.13 116.92 660.00 117.00Z" fill="#fef6f7" filter="url(#b2)"/>
<path d="M656.00 310.50C658.00 311.67 665.10 315.67 668.00 317.50C670.90 319.33 669.73 319.17 673.40 321.50C677.07 323.83 684.23 328.50 690.00 331.50C695.77 334.50 702.17 337.37 708.00 339.50C713.83 341.63 719.50 343.22 725.00 344.30C730.50 345.38 735.17 346.13 741.00 346.00C746.83 345.87 753.67 344.75 760.00 343.50C766.33 342.25 773.67 340.08 779.00 338.50C784.33 336.92 788.50 335.25 792.00 334.00C795.50 332.75 798.67 331.50 800.00 331.00L793.00 425.00C791.83 423.50 788.30 418.68 786.00 416.00C783.70 413.32 782.20 411.65 779.20 408.90C776.20 406.15 772.53 402.28 768.00 399.50C763.47 396.72 757.50 393.95 752.00 392.20C746.50 390.45 740.67 389.58 735.00 389.00C729.33 388.42 723.83 388.37 718.00 388.70C712.17 389.03 705.67 389.95 700.00 391.00C694.33 392.05 688.95 393.55 684.00 395.00C679.05 396.45 673.63 398.53 670.30 399.70C666.97 400.87 666.38 401.03 664.00 402.00C661.62 402.97 657.33 404.92 656.00 405.50Z" fill="#d4ebd6" filter="url(#b0)"/>
<path d="M656.00 317.50C658.00 318.67 665.10 322.67 668.00 324.50C670.90 326.33 669.73 326.17 673.40 328.50C677.07 330.83 684.23 335.50 690.00 338.50C695.77 341.50 702.17 344.37 708.00 346.50C713.83 348.63 719.50 350.22 725.00 351.30C730.50 352.38 735.17 353.13 741.00 353.00C746.83 352.87 753.67 351.75 760.00 350.50C766.33 349.25 773.67 347.08 779.00 345.50C784.33 343.92 788.50 342.25 792.00 341.00C795.50 339.75 798.67 338.50 800.00 338.00L793.00 418.00C791.83 416.50 788.30 411.68 786.00 409.00C783.70 406.32 782.20 404.65 779.20 401.90C776.20 399.15 772.53 395.28 768.00 392.50C763.47 389.72 757.50 386.95 752.00 385.20C746.50 383.45 740.67 382.58 735.00 382.00C729.33 381.42 723.83 381.37 718.00 381.70C712.17 382.03 705.67 382.95 700.00 384.00C694.33 385.05 688.95 386.55 684.00 388.00C679.05 389.45 673.63 391.53 670.30 392.70C666.97 393.87 666.38 394.03 664.00 395.00C661.62 395.97 657.33 397.92 656.00 398.50Z" fill="#f4faf4" filter="url(#b3)"/>
<path d="M647.30 38.20L665.90 41.60C664.62 45.47 660.37 56.40 658.20 64.80C656.03 73.20 653.40 82.50 652.90 92.00C652.40 101.50 653.62 112.38 655.20 121.80C656.78 131.22 661.20 144.05 662.40 148.50L642.50 145.70C641.57 141.72 638.02 130.75 636.90 121.80C635.78 112.85 635.32 101.50 635.80 92.00C636.28 82.50 637.88 73.77 639.80 64.80C641.72 55.83 646.05 42.63 647.30 38.20Z" fill="#969696" stroke="#000" stroke-width="1.8" stroke-linejoin="round"/>
<path d="M665.90 41.60L679.10 38.20C677.77 42.63 673.45 55.83 671.10 64.80C668.75 73.77 665.53 82.50 665.00 92.00C664.47 101.50 666.22 112.98 667.90 121.80C669.58 130.62 673.90 141.05 675.10 144.90L662.40 148.50C661.20 144.05 656.78 131.22 655.20 121.80C653.62 112.38 652.40 101.50 652.90 92.00C653.40 82.50 656.03 73.20 658.20 64.80C660.37 56.40 664.62 45.47 665.90 41.60Z" fill="#c9c9c9" stroke="#000" stroke-width="1.8" stroke-linejoin="round"/>
<path d="M647.30 38.20L660.30 34.50L679.10 38.20L665.90 41.60Z" fill="#a8a8a8" stroke="#000" stroke-width="1.8" stroke-linejoin="round"/>
<path d="M783.90 59.60L802.70 63.00C803.32 66.63 805.63 77.30 806.40 84.80C807.17 92.30 808.08 99.33 807.30 108.00C806.52 116.67 804.30 126.70 801.70 136.80C799.10 146.90 793.37 163.30 791.70 168.60L771.00 165.80C773.28 160.97 781.43 146.43 784.70 136.80C787.97 127.17 790.00 116.67 790.60 108.00C791.20 99.33 789.42 92.87 788.30 84.80C787.18 76.73 784.63 63.80 783.90 59.60Z" fill="#969696" stroke="#000" stroke-width="1.8" stroke-linejoin="round"/>
<path d="M802.70 63.00L814.90 59.60C815.50 63.80 817.68 76.73 818.50 84.80C819.32 92.87 820.48 99.33 819.80 108.00C819.12 116.67 817.15 127.17 814.40 136.80C811.65 146.43 805.15 160.97 803.30 165.80L791.70 168.60C793.37 163.30 799.10 146.90 801.70 136.80C804.30 126.70 806.52 116.67 807.30 108.00C808.08 99.33 807.17 92.30 806.40 84.80C805.63 77.30 803.32 66.63 802.70 63.00Z" fill="#c9c9c9" stroke="#000" stroke-width="1.8" stroke-linejoin="round"/>
<path d="M783.90 59.60L794.20 56.10L814.90 59.60L802.70 63.00Z" fill="#a8a8a8" stroke="#000" stroke-width="1.8" stroke-linejoin="round"/>
<path d="M647.30 301.70L665.90 305.10C664.62 308.97 660.37 319.90 658.20 328.30C656.03 336.70 653.40 346.00 652.90 355.50C652.40 365.00 653.62 375.88 655.20 385.30C656.78 394.72 661.20 407.55 662.40 412.00L642.50 409.20C641.57 405.22 638.02 394.25 636.90 385.30C635.78 376.35 635.32 365.00 635.80 355.50C636.28 346.00 637.88 337.27 639.80 328.30C641.72 319.33 646.05 306.13 647.30 301.70Z" fill="#969696" stroke="#000" stroke-width="1.8" stroke-linejoin="round"/>
<path d="M665.90 305.10L679.10 301.70C677.77 306.13 673.45 319.33 671.10 328.30C668.75 337.27 665.53 346.00 665.00 355.50C664.47 365.00 666.22 376.48 667.90 385.30C669.58 394.12 673.90 404.55 675.10 408.40L662.40 412.00C661.20 407.55 656.78 394.72 655.20 385.30C653.62 375.88 652.40 365.00 652.90 355.50C653.40 346.00 656.03 336.70 658.20 328.30C660.37 319.90 664.62 308.97 665.90 305.10Z" fill="#c9c9c9" stroke="#000" stroke-width="1.8" stroke-linejoin="round"/>
<path d="M647.30 301.70L660.30 298.00L679.10 301.70L665.90 305.10Z" fill="#a8a8a8" stroke="#000" stroke-width="1.8" stroke-linejoin="round"/>
<path d="M783.90 323.10L802.70 326.50C803.32 330.13 805.63 340.80 806.40 348.30C807.17 355.80 808.08 362.83 807.30 371.50C806.52 380.17 804.30 390.20 801.70 400.30C799.10 410.40 793.37 426.80 791.70 432.10L771.00 429.30C773.28 424.47 781.43 409.93 784.70 400.30C787.97 390.67 790.00 380.17 790.60 371.50C791.20 362.83 789.42 356.37 788.30 348.30C787.18 340.23 784.63 327.30 783.90 323.10Z" fill="#969696" stroke="#000" stroke-width="1.8" stroke-linejoin="round"/>
<path d="M802.70 326.50L814.90 323.10C815.50 327.30 817.68 340.23 818.50 348.30C819.32 356.37 820.48 362.83 819.80 371.50C819.12 380.17 817.15 390.67 814.40 400.30C811.65 409.93 805.15 424.47 803.30 429.30L791.70 432.10C793.37 426.80 799.10 410.40 801.70 400.30C804.30 390.20 806.52 380.17 807.30 371.50C808.08 362.83 807.17 355.80 806.40 348.30C805.63 340.80 803.32 330.13 802.70 326.50Z" fill="#c9c9c9" stroke="#000" stroke-width="1.8" stroke-linejoin="round"/>
<path d="M783.90 323.10L794.20 319.60L814.90 323.10L802.70 326.50Z" fill="#a8a8a8" stroke="#000" stroke-width="1.8" stroke-linejoin="round"/>
<polygon points="696.85,285.80 711.55,285.80 711.55,201.10 718.80,201.10 704.20,176.50 689.60,201.10 696.85,201.10" fill="#a5d8ad"/>
<polygon points="701.10,282.70 707.30,282.70 707.30,198.40 712.60,198.40 704.20,183.60 695.80,198.40 701.10,198.40" fill="#5cb56b"/>
<polygon points="737.30,184.50 751.90,184.50 751.90,212.50 759.45,212.50 744.60,237.30 729.75,212.50 737.30,212.50" fill="#8fc0d8"/>
<polygon points="741.70,188.90 747.50,188.90 747.50,216.20 752.80,216.20 744.60,230.20 736.40,216.20 741.70,216.20" fill="#2a9dc0"/>
<polygon points="736.80,242.40 751.40,242.40 751.40,270.10 758.95,270.10 744.10,294.60 729.25,270.10 736.80,270.10" fill="#dc9db2"/>
<polygon points="741.20,246.90 747.00,246.90 747.00,273.70 752.20,273.70 744.10,287.40 736.00,273.70 741.20,273.70" fill="#b73a5e"/>
<polygon points="837.18,90.19 885.25,97.37 883.42,92.70 899.60,102.80 881.17,107.73 884.28,103.80 836.22,96.61" fill="#a60a2e"/>
<polygon points="830.16,146.78 877.31,153.52 875.44,148.96 892.00,158.90 873.32,163.81 876.39,159.95 829.24,153.22" fill="#0f73ba"/>
<polygon points="560.08,338.53 607.24,345.43 605.37,340.92 621.80,350.90 603.20,355.76 606.28,351.96 559.12,345.07" fill="#2b9e48"/>
<polygon points="830.77,382.53 878.43,389.45 876.56,384.94 893.00,394.90 874.41,399.78 877.48,395.98 829.83,389.07" fill="#2b9e48"/>
<text transform="translate(670.6,101.7) rotate(8.3)" font-size="16.3"><tspan fill="#0f73ba">IR signal</tspan> &amp; <tspan fill="#a60a2e">Idler</tspan></text>
<text transform="translate(682.7,366.2) rotate(8.3)" font-size="16" fill="#2b9e48">Visible Pump</text>
<text transform="translate(646.6,229.2) rotate(8.5)" font-size="14.6" fill="#3faa4c">Pump</text>
<text transform="translate(767.0,214.7) rotate(8.3)" font-size="14.6" fill="#1f7bc0">Signal</text>
<text transform="translate(766.3,271.9) rotate(8.3)" font-size="14.6" fill="#ab2148">Idler</text>
<text transform="translate(846.3,76.6) rotate(9)" font-size="14.7">Out Ω<tspan font-style="italic" font-size="8.8" dy="3.4">i</tspan></text>
<text transform="translate(840.0,134.6) rotate(9)" font-size="14.7">Out Ω<tspan font-style="italic" font-size="8.8" dy="3.4">s</tspan></text>
<text transform="translate(572.0,325.3) rotate(8.5)" font-size="14.7">In Ω<tspan font-style="italic" font-size="8.8" dy="3.4">p</tspan></text>
<text transform="translate(840.5,369.6) rotate(9)" font-size="14.7">Out Ω<tspan font-style="italic" font-size="8.8" dy="3.4">p</tspan></text>
</svg>
</body></html>
